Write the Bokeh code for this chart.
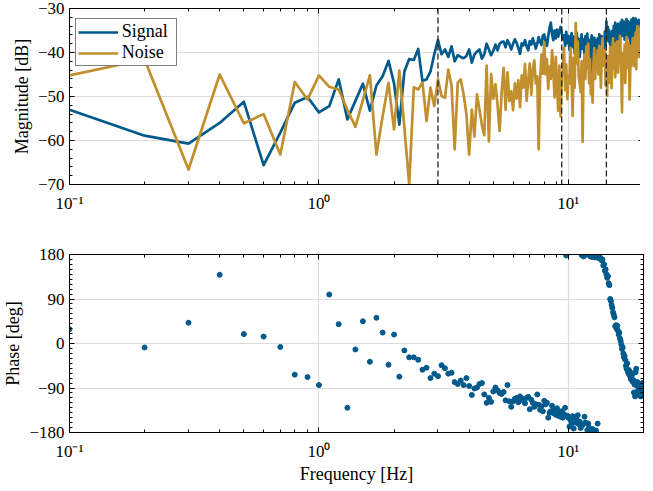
from bokeh.plotting import figure
from bokeh.layouts import column
from bokeh.models import (FixedTicker, CustomJSTickFormatter, LogAxis, LinearAxis,
                          Span, Legend)
from bokeh.embed import file_html
from bokeh.resources import INLINE

# ---------------- data ----------------
freq = [round(0.1 * i, 1) for i in range(1, 201)]  # 0.1 Hz resolution, 0.1 .. 20 Hz

signal_db = [
    -53.0, -58.9, -60.7, -56.0, -51.2, -65.6, -58.2, -51.4, -50.1, -53.6,
    -52.2, -46.1, -55.2, -51.0, -47.1, -53.2, -47.5, -45.4, -41.9, -47.0,
    -56.4, -44.3, -41.5, -41.7, -39.2, -46.5, -46.1, -44.3, -40.4, -37.2,
    -40.4, -39.3, -41.0, -38.6, -42.0, -40.6, -41.0, -41.3, -40.8, -39.3,
    -42.3, -40.5, -39.8, -39.3, -41.4, -40.4, -38.0, -39.3, -40.6, -39.6,
    -38.2, -39.5, -38.0, -37.6, -37.5, -38.8, -37.2, -38.1, -39.3, -38.0,
    -37.0, -37.8, -39.0, -40.3, -37.9, -38.4, -37.2, -38.6, -39.5, -37.4,
    -38.2, -36.8, -37.8, -39.1, -38.0, -36.5, -37.6, -38.3, -36.2, -35.9,
    -37.5, -38.5, -36.3, -34.5, -33.2, -35.8, -37.2, -35.0, -36.8, -34.8,
    -36.4, -35.2, -34.2, -35.5, -37.0, -36.1, -38.5, -35.3, -37.9, -36.2,
    -39.4, -37.0, -35.6, -38.8, -36.4, -40.2, -37.1, -35.5, -38.6, -36.9,
    -41.0, -37.8, -35.9, -39.2, -37.0, -40.5, -36.3, -38.4, -35.7, -39.8,
    -37.2, -42.6, -38.0, -36.1, -45.8, -38.5, -36.6, -40.1, -37.3, -43.0,
    -36.8, -39.2, -35.9, -38.1, -41.5, -36.3, -39.6, -37.0, -40.7, -35.2,
    -38.3, -33.0, -36.4, -34.2, -37.5, -35.0, -38.2, -36.0, -41.6, -35.1,
    -37.6, -34.0, -36.5, -33.2, -38.8, -34.7, -37.0, -33.5, -35.8, -34.3,
    -38.0, -33.1, -35.9, -32.6, -36.2, -34.5, -33.0, -37.1, -33.8, -35.6,
    -32.4, -36.9, -34.0, -32.9, -35.3, -33.4, -38.2, -34.1, -32.5, -41.3,
    -34.8, -32.2, -36.0, -33.0, -35.1, -32.3, -34.6, -36.7, -32.8, -34.2,
    -32.6, -35.5, -33.1, -37.4, -33.6, -32.4, -35.0, -33.3, -36.8, -34.5,
]

noise_db = [
    -45.2, -41.6, -66.6, -45.0, -56.1, -54.0, -63.2, -46.7, -50.7, -45.2,
    -47.8, -48.4, -53.0, -56.9, -50.8, -45.2, -63.2, -54.5, -46.9, -57.5,
    -44.1, -57.0, -70.0, -47.9, -48.4, -46.8, -55.6, -48.0, -52.2, -46.1,
    -49.9, -50.3, -43.9, -47.5, -62.0, -46.9, -46.1, -49.5, -54.0, -63.2,
    -53.0, -59.1, -49.5, -53.0, -56.5, -58.8, -43.0, -60.2, -44.9, -50.5,
    -47.2, -52.0, -57.8, -49.0, -43.5, -53.0, -44.5, -51.0, -48.8, -53.1,
    -47.0, -50.5, -46.3, -52.4, -45.2, -48.0, -42.6, -51.0, -46.2, -42.5,
    -49.6, -44.0, -41.8, -47.0, -45.4, -62.0, -46.2, -40.5, -44.8, -37.7,
    -45.0, -41.5, -48.3, -43.2, -46.0, -39.5, -44.0, -50.2, -41.0, -47.5,
    -53.2, -43.0, -54.5, -45.6, -44.0, -38.9, -48.5, -42.7, -50.6, -45.3,
    -47.0, -39.0, -46.5, -54.4, -41.2, -48.0, -33.3, -42.4, -37.5, -45.5,
    -47.2, -49.0, -42.0, -60.3, -44.3, -40.5, -46.0, -38.6, -43.5, -38.0,
    -47.0, -41.5, -49.5, -45.0, -51.4, -42.3, -39.0, -46.0, -41.2, -43.8,
    -39.5, -45.0, -38.5, -42.0, -48.0, -40.3, -36.8, -43.0, -40.0, -39.5,
    -47.5, -42.0, -49.9, -40.8, -44.0, -46.9, -38.8, -42.5, -48.1, -40.0,
    -36.8, -43.5, -39.3, -45.6, -38.0, -41.8, -37.5, -44.6, -39.0, -42.0,
    -36.2, -40.5, -45.0, -53.6, -41.0, -40.0, -45.5, -38.2, -46.9, -41.0,
    -36.5, -39.3, -43.5, -37.8, -42.5, -50.7, -44.0, -38.5, -43.1, -40.5,
    -36.8, -41.2, -37.0, -43.1, -39.0, -35.5, -43.8, -36.4, -34.0, -38.5,
    -35.2, -41.0, -34.5, -37.6, -33.8, -42.0, -48.5, -36.0, -34.0, -48.0,
]

phase_deg = [
    29, -8, 42, 139, 19, 14, -7, -63, -68, -84,
    99, 39, -130, -12, 45, -37, 52, 22, -43, 18,
    -67, -14, -28, -28, -33, -53, -49, -70, -61, -66,
    -44, -50, -61, -59, -78, -82, -75, -84, -70, -86,
    -104, -91, -89, -82, -80, -103, -120, -110, -118, -97,
    -89, -95, -100, -102, -98, -115, -84, -117, -128, -117,
    -112, -110, -119, -107, -111, -116, -121, -110, -108, -133,
    -114, -120, -128, -123, -103, -124, -134, -127, -137, -116,
    -123, -120, -150, -140, -137, -126, -141, -134, -144, -131,
    -146, -139, -148, -137, -150, -143, -130, 178, -146, -150,
    -168, -155, -162, -147, -172, -150, -160, -154, -145, -163,
    -158, -171, 179, -165, 176, -148, -160, 180, -175, -162,
    -170, 177, -178, 175, -173, 176, -180, 174, -176, 175,
    -162, 173, 172, 174, 171, 168, 170, 158, 160, 147,
    150, 140, 133, 136, 122, 118, 90, 86, 78, 72,
    63, 58, 53, 35, 37, 30, 36, 26, 18, 22,
    10, 5, -2, -11, -8, -20, -28, -25, -33, -45,
    -51, -40, -56, -60, -54, -65, -58, -72, -69, -63,
    -77, -74, -99, -83, -107, -58, -51, -85, -78, -95,
    -88, -103, -82, -92, -107, -86, -93, -80, -98, -84,
]

marker_freqs = [3.0, 9.4, 14.2]

x_major = [0.1, 1, 10]
x_minor = [0.2, 0.3, 0.4, 0.5, 0.6, 0.7, 0.8, 0.9, 2, 3, 4, 5, 6, 7, 8, 9, 20]
mag_major = [-70, -60, -50, -40, -30]
mag_minor = list(range(-70, -29, 2))
ph_major = [-180, -90, 0, 90, 180]
ph_minor = list(range(-180, 181, 10))

# ---------------- style ----------------
FONT = "Liberation Serif"
BLUE = "#005a8c"
GOLD = "#c18f2d"
GRID = "#dcdcdc"

sup_code = r"""
const e = Math.round(Math.log10(tick));
const m = {"-": "\u207b", "0": "\u2070", "1": "\u00b9", "2": "\u00b2", "3": "\u00b3"};
return "10" + String(e).split("").map(c => m[c]).join("");
"""


def style_axis(ax, labels=True):
    ax.axis_line_color = "black"
    ax.axis_line_width = 1
    ax.major_tick_in = 5
    ax.major_tick_out = 0
    ax.minor_tick_in = 3
    ax.minor_tick_out = 0
    ax.major_tick_line_color = "black"
    ax.minor_tick_line_color = "black"
    if labels:
        ax.major_label_text_font = FONT
        ax.major_label_text_font_size = "17px"
        ax.major_label_text_color = "black"
        ax.axis_label_text_font = FONT
        ax.axis_label_text_font_size = "18px"
        ax.axis_label_text_font_style = "normal"
        ax.axis_label_text_color = "black"
    else:
        ax.major_label_text_font_size = "0px"
        ax.major_label_standoff = 0
        ax.formatter = CustomJSTickFormatter(code="return '';")


def make_fig(yrange, ymaj, ymin, fh, bt, bb, ylabel, xlabel=None):
    p = figure(x_axis_type="log", x_range=(0.1, 20), y_range=yrange,
               frame_width=574, frame_height=fh,
               min_border_left=58, min_border_right=5,
               min_border_top=bt, min_border_bottom=bb,
               output_backend="svg", toolbar_location=None)
    xt = FixedTicker(ticks=x_major, minor_ticks=x_minor)
    yt = FixedTicker(ticks=ymaj, minor_ticks=ymin)
    xax = p.below[0]
    yax = p.left[0]
    xax.ticker = xt
    yax.ticker = yt
    xax.formatter = CustomJSTickFormatter(code=sup_code)
    style_axis(xax)
    style_axis(yax)
    xax.major_label_standoff = 9
    yax.major_label_standoff = 5
    yax.axis_label_standoff = 3
    yax.axis_label = ylabel
    if xlabel:
        xax.axis_label = xlabel
        xax.axis_label_standoff = 0
    top = LogAxis(ticker=xt)
    style_axis(top, labels=False)
    p.add_layout(top, "above")
    right = LinearAxis(ticker=yt)
    style_axis(right, labels=False)
    p.add_layout(right, "right")
    p.xgrid.ticker = FixedTicker(ticks=x_major)
    p.ygrid.ticker = FixedTicker(ticks=ymaj)
    p.xgrid.grid_line_color = GRID
    p.ygrid.grid_line_color = GRID
    p.xgrid.grid_line_width = 1.2
    p.ygrid.grid_line_width = 1.2
    p.outline_line_color = "black"
    p.outline_line_width = 1
    p.outline_line_alpha = 1
    p.background_fill_color = "white"
    p.border_fill_color = "white"
    return p


# ---------------- magnitude ----------------
p1 = make_fig((-70, -30), mag_major, mag_minor, 176, 8, 30, "Magnitude [dB]")
r_sig = p1.line(freq, signal_db, line_color=BLUE, line_width=2.7, line_join="round")
r_noi = p1.line(freq, noise_db, line_color=GOLD, line_width=2.7, line_join="round")
for f in marker_freqs:
    p1.add_layout(Span(location=f, dimension="height", line_color="#222222",
                       line_width=1.3, line_dash="6 3"))

legend = Legend(items=[("Signal", [r_sig]), ("Noise", [r_noi])],
                location=(12, 118), margin=0, padding=2, spacing=0,
                glyph_width=40, glyph_height=20, label_height=20,
                label_width=52, label_standoff=4, label_text_font=FONT,
                label_text_font_size="18px", label_text_color="black",
                border_line_color="black", border_line_width=1,
                background_fill_color="white", background_fill_alpha=1)
p1.add_layout(legend)

# ---------------- phase ----------------
p2 = make_fig((-180, 180), ph_major, ph_minor, 178, 39, 50, "Phase [deg]",
              "Frequency [Hz]")
p2.scatter(freq, phase_deg, size=5, color=BLUE, line_color=BLUE)

layout = column(p1, p2, spacing=0)
open("out.html", "w", encoding="utf-8").write(file_html(layout, INLINE))
